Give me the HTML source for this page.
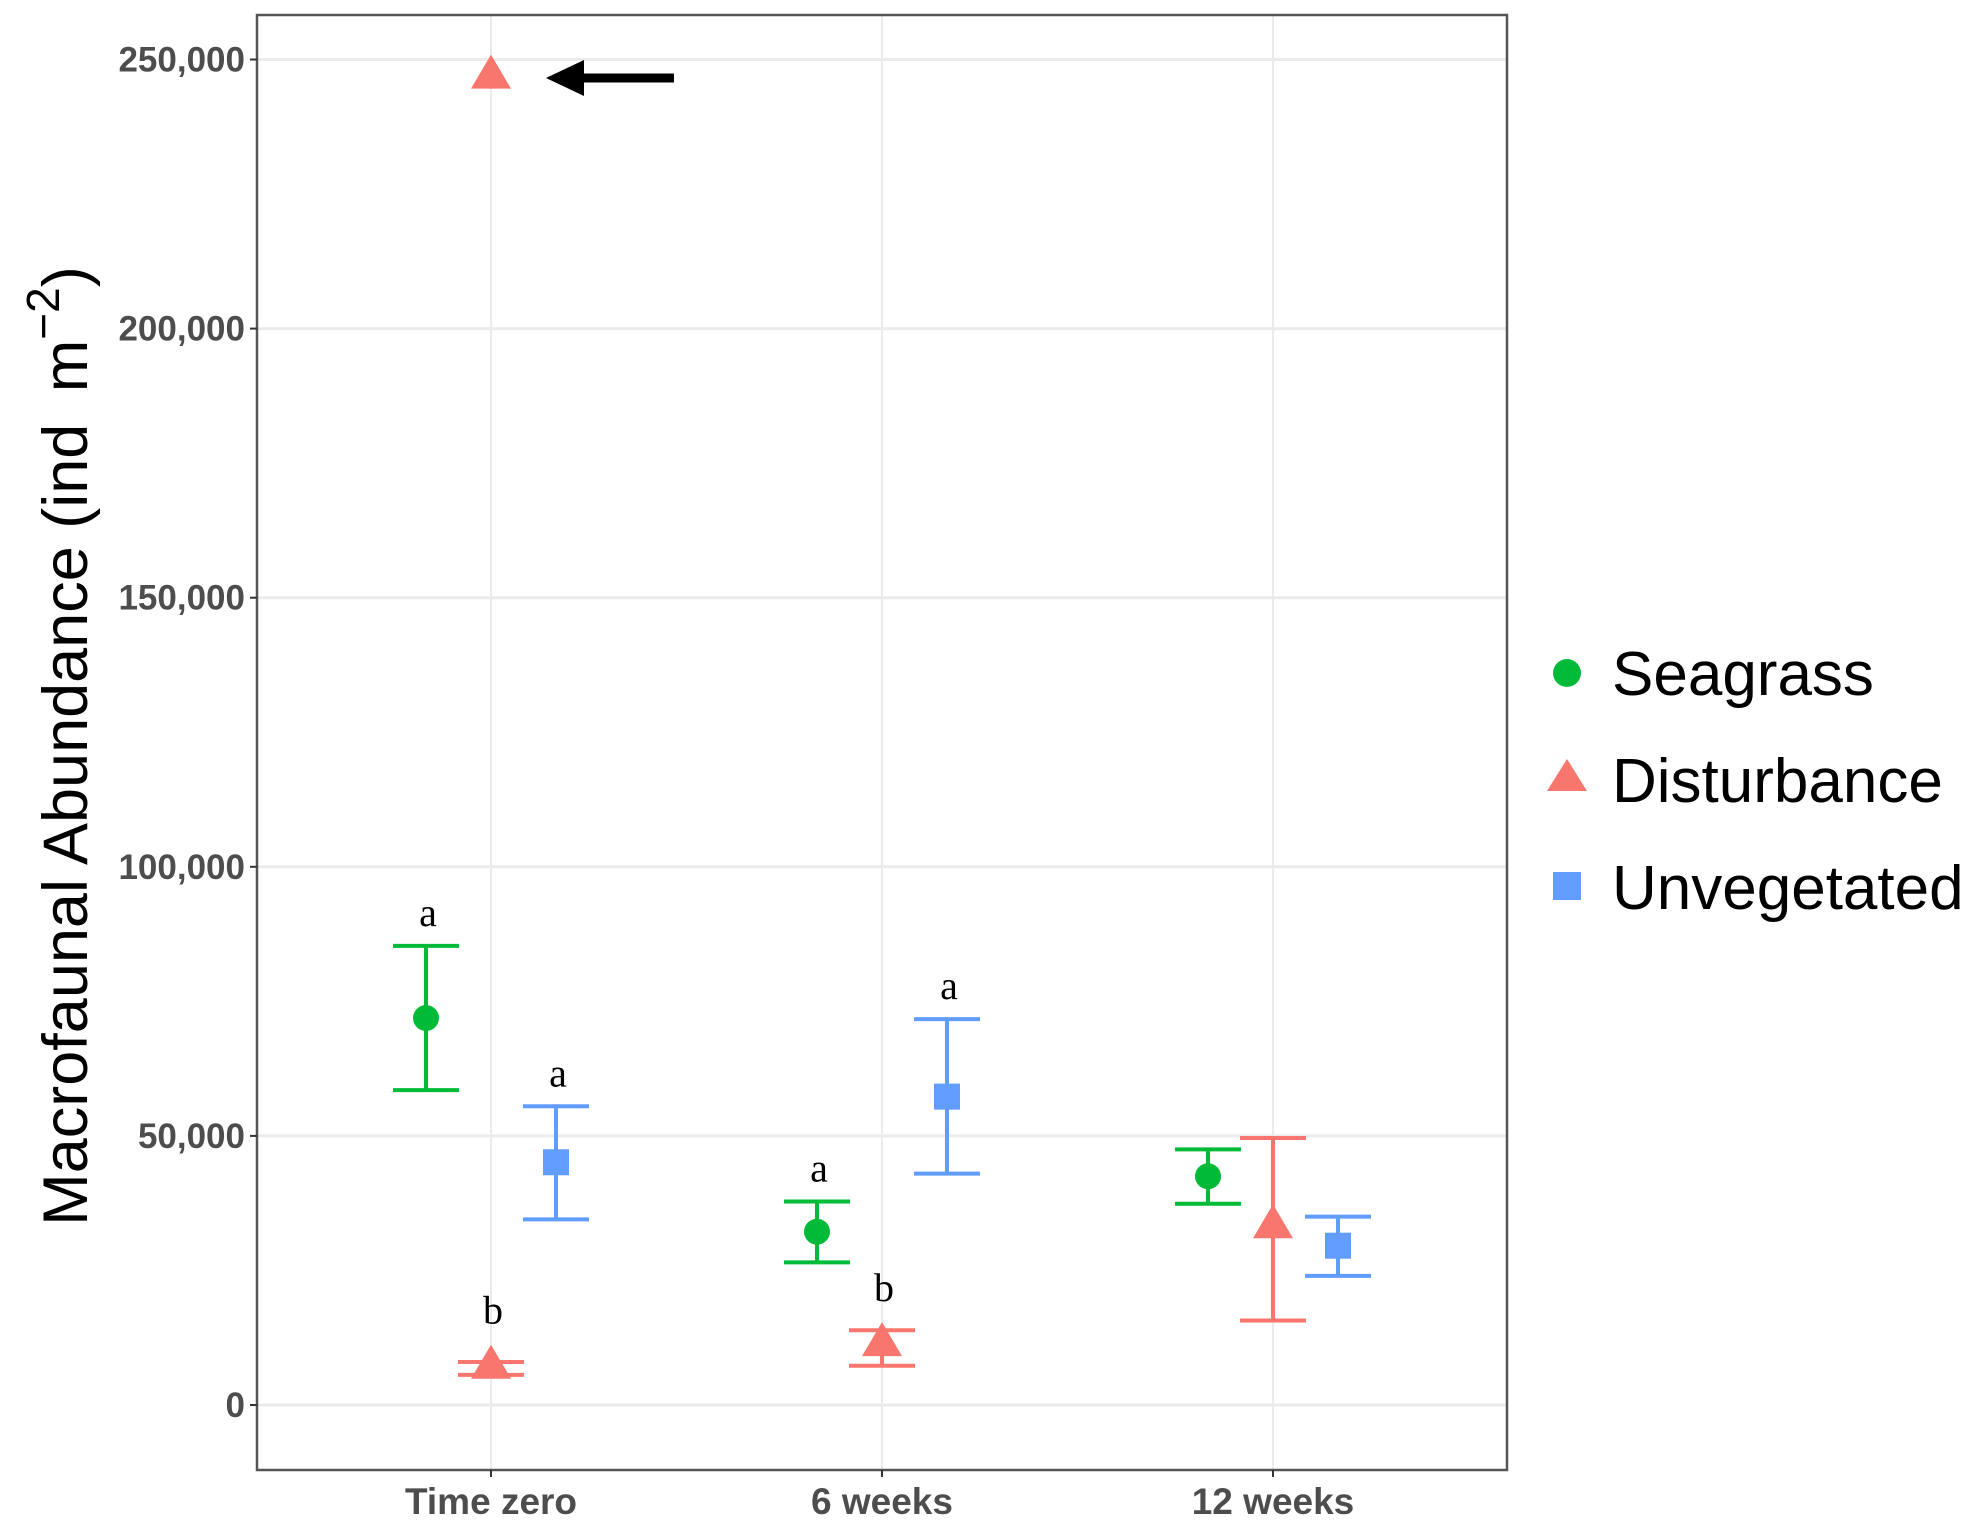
<!DOCTYPE html>
<html><head><meta charset="utf-8"><style>
html,body{margin:0;padding:0;background:#fff;}
svg{display:block;font-family:"Liberation Sans",Arial,sans-serif;}
</style></head><body>
<svg id="chart" width="1984" height="1536" viewBox="0 0 1984 1536">
<rect x="0" y="0" width="1984" height="1536" fill="#fff"/>
<g id="grid"></g>
<g id="marks"></g>
<rect x="257" y="15" width="1250" height="1455" fill="none" stroke="#555" stroke-width="2.5"/>
<g id="axes"></g>
<text transform="translate(87,746) rotate(-90)" text-anchor="middle" font-size="63" fill="#000">Macrofaunal Abundance (ind <tspan dx="14">m</tspan><tspan dy="-28" font-size="46">−2</tspan><tspan dy="28">)</tspan></text>
<g>
<line x1="674" y1="78" x2="575" y2="78" stroke="#000" stroke-width="9"/>
<polygon points="546,78 584,60 584,96" fill="#000"/>
</g>
<g>
<circle cx="1567" cy="673" r="14" fill="#00BA38"/>
<text x="1612" y="695" font-size="62" fill="#000">Seagrass</text>
<polygon points="1567,759 1587,791 1547,791" fill="#F8766D"/>
<text x="1612" y="802" font-size="62" fill="#000">Disturbance</text>
<rect x="1553" y="872" width="28" height="28" fill="#619CFF"/>
<text x="1612" y="909" font-size="62" fill="#000">Unvegetated</text>
</g>
</svg>
<script>
const categories = ["Time zero","6 weeks","12 weeks"];
const yTicks = [0,50000,100000,150000,200000,250000];
const yTickLabels = ["0","50,000","100,000","150,000","200,000","250,000"];
const seriesNames = ["Seagrass","Disturbance","Unvegetated"];
const seagrassMean = [71900,32200,42500];
const seagrassLow = [58500,26500,37400];
const seagrassHigh = [85300,37800,47500];
const disturbanceMean = [7300,11500,33400];
const disturbanceLow = [5600,7300,15700];
const disturbanceHigh = [8000,13900,49600];
const unvegetatedMean = [45100,57300,29600];
const unvegetatedLow = [34500,43000,24000];
const unvegetatedHigh = [55500,71700,35000];
const outlierCategory = 0;
const outlierValue = 247000;
const seagrassLetters = ["a","a",""];
const disturbanceLetters = ["b","b",""];
const unvegetatedLetters = ["a","a",""];

const NS="http://www.w3.org/2000/svg";
function yScale(v){return 1405-(v/250000)*(1405-59.5);}
function xScale(i){return 491+i*391;}
const dodge=[-65,0,65];
const colors=["#00BA38","#F8766D","#619CFF"];
function mk(tag,attrs,parent){const e=document.createElementNS(NS,tag);for(const k in attrs)e.setAttribute(k,attrs[k]);parent.appendChild(e);return e;}
const grid=document.getElementById('grid'),marks=document.getElementById('marks'),axes=document.getElementById('axes');
yTicks.forEach((t,i)=>{
  const y=yScale(t);
  const g=mk('line',{x1:257,x2:1507,y1:y,y2:y,stroke:'#ebebeb','stroke-width':3},grid);
  
  
  const tk=mk('line',{x1:250,x2:257,y1:y,y2:y,stroke:'#333','stroke-width':2},axes);
  
  
  const tx=mk('text',{x:245,y:y+12,'text-anchor':'end','font-size':35,'font-weight':'bold',fill:'#4d4d4d'},axes);
  tx.textContent=yTickLabels[i];
  
  
});
categories.forEach((c,i)=>{
  const x=xScale(i);
  const g=mk('line',{x1:x,x2:x,y1:15,y2:1470,stroke:'#ebebeb','stroke-width':2},grid);
  
  
  const tk=mk('line',{x1:x,x2:x,y1:1470,y2:1477,stroke:'#333','stroke-width':2},axes);
  
  
  const tx=mk('text',{x:x,y:1514,'text-anchor':'middle','font-size':37,'font-weight':'bold',fill:'#4d4d4d'},axes);
  tx.textContent=c;
  
  
});
const series=[[seagrassMean,seagrassLow,seagrassHigh,seagrassLetters],[disturbanceMean,disturbanceLow,disturbanceHigh,disturbanceLetters],[unvegetatedMean,unvegetatedLow,unvegetatedHigh,unvegetatedLetters]];
function drawPoint(s,cx,cy,name){
  let e;
  if(s===0)e=mk('circle',{cx:cx,cy:cy,r:13,fill:colors[0]},marks);
  else if(s===1)e=mk('polygon',{points:`${cx},${cy-21} ${cx+20},${cy+13} ${cx-20},${cy+13}`,fill:colors[1]},marks);
  else e=mk('rect',{x:cx-13,y:cy-13,width:26,height:26,fill:colors[2]},marks);
  
  
}
series.forEach((sd,s)=>{
  categories.forEach((c,i)=>{
    const x=xScale(i)+dodge[s];
    const yl=yScale(sd[1][i]),yh=yScale(sd[2][i]);
    const stroke={stroke:colors[s],'stroke-width':4};
    const v=mk('line',Object.assign({x1:x,x2:x,y1:yl,y2:yh},stroke),marks);
    
    
    [yl,yh].forEach(yy=>{
      const h=mk('line',Object.assign({x1:x-33,x2:x+33,y1:yy,y2:yy},stroke),marks);
      
      
    });
    drawPoint(s,x,yScale(sd[0][i]),'point-'+seriesNames[s].toLowerCase());
    if(sd[3][i]){
      const top=Math.min(yh,yScale(sd[0][i])-22);
      const t=mk('text',{x:x+2,y:top-20,'text-anchor':'middle','font-size':40,'font-family':'"Liberation Serif",serif',fill:'#000'},marks);
      t.textContent=sd[3][i];
      
      
    }
  });
});
drawPoint(1,xScale(outlierCategory)+dodge[1],yScale(outlierValue),'outlier-point');
</script>
</body></html>
